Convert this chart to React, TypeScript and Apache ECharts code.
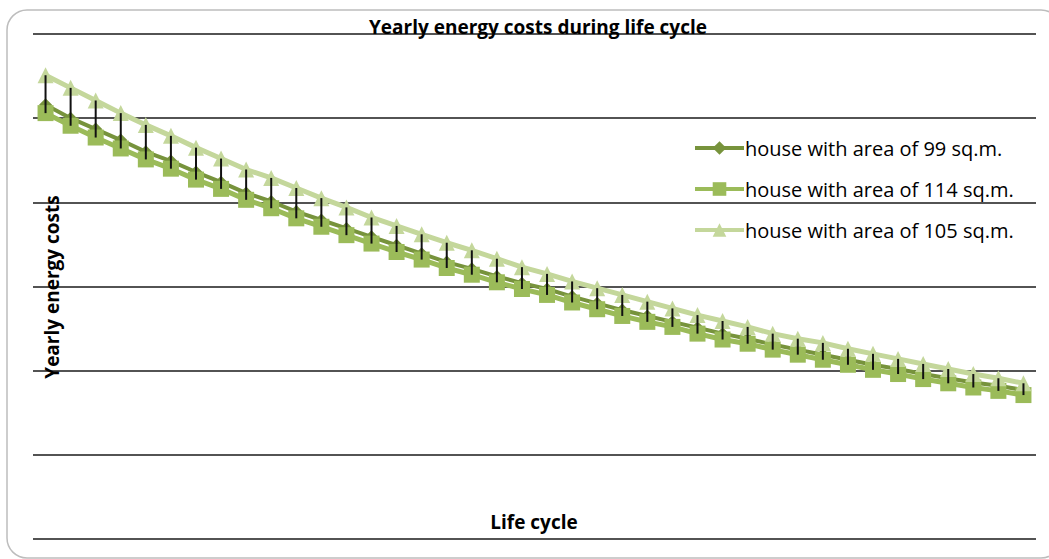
import React, { useEffect, useRef } from "react";
import * as echarts from "echarts";

const categories: string[] = Array.from({ length: 40 }, (_, i) => String(i + 1));

const house99: number[] = [
  5.16, 5.0, 4.87, 4.74, 4.6, 4.49, 4.36, 4.24, 4.11, 4.01,
  3.89, 3.79, 3.69, 3.59, 3.49, 3.39, 3.29, 3.21, 3.12, 3.04,
  2.97, 2.88, 2.8, 2.72, 2.65, 2.58, 2.51, 2.44, 2.38, 2.31,
  2.25, 2.19, 2.13, 2.07, 2.02, 1.96, 1.91, 1.86, 1.82, 1.77,
];

const house114: number[] = [
  5.06, 4.91, 4.77, 4.64, 4.51, 4.4, 4.27, 4.16, 4.03, 3.93,
  3.81, 3.71, 3.61, 3.51, 3.41, 3.32, 3.22, 3.14, 3.05, 2.97,
  2.9, 2.81, 2.73, 2.65, 2.58, 2.52, 2.44, 2.37, 2.32, 2.25,
  2.19, 2.13, 2.07, 2.01, 1.96, 1.9, 1.85, 1.8, 1.76, 1.71,
];

const house105: number[] = [
  5.51, 5.36, 5.21, 5.06, 4.92, 4.79, 4.65, 4.52, 4.39, 4.29,
  4.17, 4.05, 3.94, 3.82, 3.72, 3.62, 3.52, 3.43, 3.33, 3.23,
  3.15, 3.06, 2.98, 2.9, 2.82, 2.74, 2.66, 2.59, 2.52, 2.44,
  2.38, 2.33, 2.26, 2.2, 2.14, 2.08, 2.02, 1.96, 1.91, 1.85,
];

const seriesNames: string[] = [
  "house with area of 99 sq.m.",
  "house with area of 114 sq.m.",
  "house with area of 105 sq.m.",
];

const yTicks: number[] = [0, 1, 2, 3, 4, 5, 6];

const titleText = "Yearly energy costs during life cycle";
const yTitle = "Yearly energy costs";
const xTitle = "Life cycle";

const FONT = "'Open Sans', 'Liberation Sans', sans-serif";

export default function App() {
  const ref = useRef<HTMLDivElement>(null);

  useEffect(() => {
    if (!ref.current) return;
    const chart = echarts.init(ref.current, undefined, { renderer: "svg" });

    const hiLo = categories.map((_, i) => {
      const vals = [house99[i], house114[i], house105[i]];
      return [i, Math.max(...vals), Math.min(...vals)];
    });

    chart.setOption({
      animation: false,
      backgroundColor: "#ffffff",
      textStyle: { fontFamily: FONT },
      grid: { left: 33, right: 13, top: 34, bottom: 20, containLabel: false },
      legend: {
        orient: "vertical",
        left: 693,
        top: 138,
        padding: 0,
        itemWidth: 49,
        itemHeight: 17,
        itemGap: 21,
        data: seriesNames,
        lineStyle: { width: 4 },
        textStyle: { fontFamily: FONT, fontSize: 20, color: "#000", padding: [0, 0, 0, -4] },
      },
      xAxis: {
        type: "category",
        data: categories,
        boundaryGap: true,
        axisLine: { show: false },
        axisTick: { show: false },
        axisLabel: { show: false },
        splitLine: { show: false },
      },
      yAxis: {
        type: "value",
        min: yTicks[0],
        max: yTicks[yTicks.length - 1],
        interval: 1,
        axisLine: { show: false },
        axisTick: { show: false },
        axisLabel: { show: false },
        splitLine: { show: true, lineStyle: { color: "#1a1a1a", width: 1.6 } },
      },
      graphic: [
        {
          type: "rect",
          silent: true,
          z: -10,
          shape: { x: 7, y: 10, width: 1054, height: 548, r: 20 },
          style: { fill: "none", stroke: "#bdbdbd", lineWidth: 1.5 },
        },
        {
          type: "text",
          x: 538,
          y: 27,
          z: 100,
          style: {
            text: titleText,
            fontFamily: FONT,
            fontWeight: "bold",
            fontSize: 19,
            fill: "#000",
            textAlign: "center",
            textVerticalAlign: "middle",
          },
        },
        {
          type: "text",
          x: 52,
          y: 287,
          rotation: Math.PI / 2,
          z: 100,
          style: {
            text: yTitle,
            fontFamily: FONT,
            fontWeight: "bold",
            fontSize: 19,
            fill: "#000",
            textAlign: "center",
            textVerticalAlign: "middle",
          },
        },
        {
          type: "text",
          x: 534,
          y: 522,
          z: 100,
          style: {
            text: xTitle,
            fontFamily: FONT,
            fontWeight: "bold",
            fontSize: 19,
            fill: "#000",
            textAlign: "center",
            textVerticalAlign: "middle",
          },
        },
      ],
      series: [
        {
          name: seriesNames[0],
          type: "line",
          data: house99,
          symbol: "diamond",
          symbolSize: 13,
          showAllSymbol: true,
          lineStyle: { color: "#77933C", width: 4 },
          itemStyle: { color: "#77933C" },
          z: 2,
        },
        {
          name: seriesNames[1],
          type: "line",
          data: house114,
          symbol: "rect",
          symbolSize: 16,
          showAllSymbol: true,
          lineStyle: { color: "#9BBB59", width: 5 },
          itemStyle: { color: "#9BBB59" },
          z: 3,
        },
        {
          name: seriesNames[2],
          type: "line",
          data: house105,
          symbol: "triangle",
          symbolSize: 16,
          showAllSymbol: true,
          lineStyle: { color: "#C4D79B", width: 5 },
          itemStyle: { color: "#C4D79B" },
          z: 4,
        },
        {
          name: "hilo",
          type: "custom",
          data: hiLo,
          z: 10,
          encode: { x: 0, y: [1, 2] },
          renderItem: (params: any, api: any) => {
            const idx = api.value(0);
            const p1 = api.coord([idx, api.value(1)]);
            const p2 = api.coord([idx, api.value(2)]);
            return {
              type: "line",
              shape: { x1: p1[0], y1: p1[1], x2: p2[0], y2: p2[1] },
              style: { stroke: "#111", lineWidth: 2 },
            };
          },
        },
      ],
    });

    return () => chart.dispose();
  }, []);

  return (
    <div
      ref={ref}
      style={{ position: "absolute", left: 0, top: 0, width: 1049, height: 559 }}
    />
  );
}
